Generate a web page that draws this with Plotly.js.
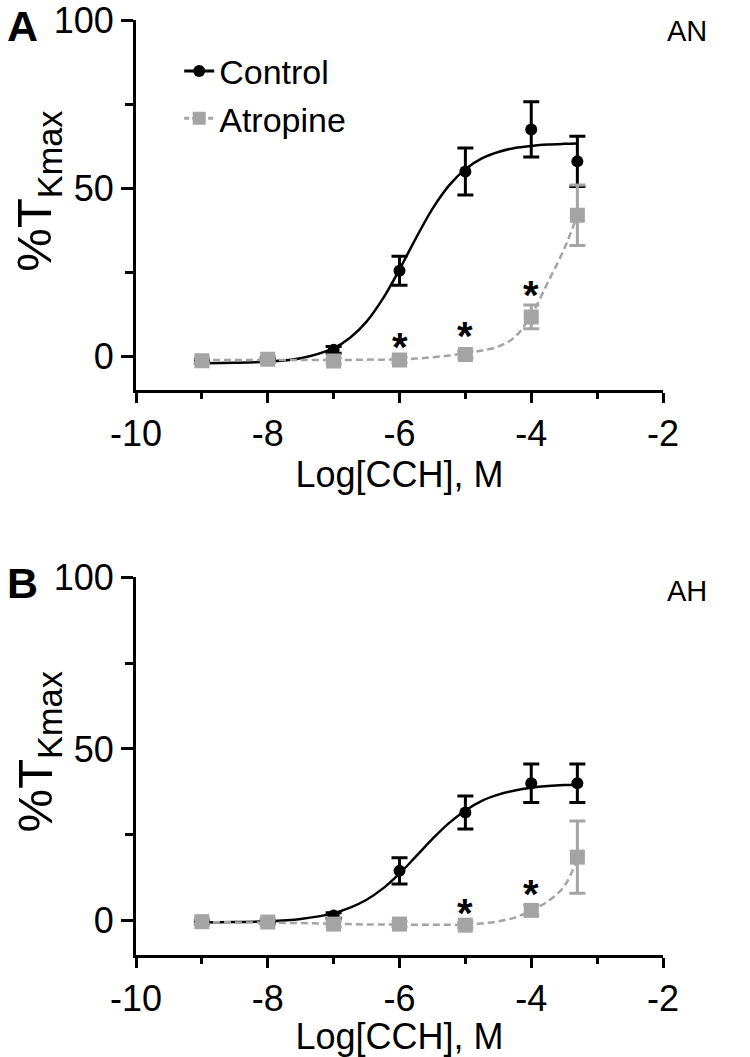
<!DOCTYPE html>
<html>
<head>
<meta charset="utf-8">
<script src="https://cdn.plot.ly/plotly-3.0.1.min.js"></script>
<style>html,body{margin:0;padding:0;background:#fff;}#chart{width:750px;height:1057px;}</style>
</head>
<body>
<div id="chart"></div>
<script>
// ---- data ----
const xDose = [-9, -8, -7, -6, -5, -4, -3.3];

// Panel A (AN)
const ctrlA    = [-1.5, -1, 2, 25.5, 55, 67.5, 58];
const ctrlAErr = [0.5, 0.5, 1, 4.3, 7, 8.2, 7.5];
const atrA     = [-1.2, -0.8, -1.3, -1, 0.6, 11.8, 42];
const atrAErr  = [0.8, 0.8, 0.8, 0.8, 1, 3.5, 9];

// Panel B (AH)
const ctrlB    = [-0.5, -0.3, 1.5, 14.5, 31.5, 40, 40];
const ctrlBErr = [0.5, 0.5, 0.8, 3.8, 4.8, 5.6, 5.6];
const atrB     = [-0.3, -0.4, -1, -1, -1.3, 3, 18.5];
const atrBErr  = [0.8, 0.8, 0.8, 0.8, 0.8, 1.5, 10.5];

// fitted curves
const fitX     = [-9, -8.5, -8, -7.5, -7, -6.75, -6.5, -6.25, -6, -5.75, -5.5, -5.25, -5, -4.75, -4.5, -4.25, -4, -3.75, -3.5, -3.3];
const ctrlFitA = [-1.95, -1.85, -1.5, -0.5, 2.5, 5.6, 10.4, 17.3, 25.9, 35.2, 43.9, 50.8, 55.7, 58.9, 60.8, 62.0, 62.6, 63.0, 63.2, 63.3];
const atrFitA  = [-1, -1, -1, -1, -1, -1, -0.9, -0.9, -0.8, -0.6, -0.2, 0.3, 1, 1.8, 3, 5.8, 12.3, 22, 32, 42];
const ctrlFitB = [-0.5, -0.4, -0.2, 0.5, 2.2, 3.8, 6.1, 9.4, 13.7, 18.7, 23.8, 28.4, 32.1, 34.9, 36.7, 37.9, 38.7, 39.2, 39.5, 39.6];
const atrFitB  = [-0.5, -0.5, -0.6, -0.7, -0.9, -1, -1.1, -1.1, -1.2, -1.2, -1.2, -1.2, -1.2, -0.8, -0.2, 0.9, 3, 5.6, 10, 18];

// significance marks
const starAX = [-6, -5, -4];
const starAY = [5.2, 8.5, 20.7];
const starBX = [-5, -4];
const starBY = [4.6, 10];

const seriesNames = ['Control', 'Atropine'];
const yTickVals = [0, 50, 100];
const xTickVals = [-10, -8, -6, -4, -2];
const panelNames = ['AN', 'AH'];
const panelLetters = ['A', 'B'];

// ---- styles ----
const BLACK = '#000000';
const GREY = '#a4a4a4';
const FONT = '"Liberation Sans", Arial, Helvetica, sans-serif';

function curve(x, y, color, dash, xa, ya) {
  return {x: x, y: y, xaxis: xa, yaxis: ya, mode: 'lines', type: 'scatter',
    line: {color: color, width: 2.5, dash: dash, shape: 'spline', smoothing: 1},
    showlegend: false, hoverinfo: 'skip'};
}
function points(x, y, err, color, symbol, size, xa, ya) {
  return {x: x, y: y, xaxis: xa, yaxis: ya, mode: 'markers', type: 'scatter',
    marker: {color: color, symbol: symbol, size: size, line: {width: 0}},
    error_y: {type: 'data', array: err, visible: true, color: color, thickness: 3, width: 8},
    showlegend: false};
}

const traces = [
  curve(fitX, ctrlFitA, BLACK, 'solid', 'x', 'y'),
  points(xDose, ctrlA, ctrlAErr, BLACK, 'circle', 12, 'x', 'y'),
  curve(fitX, atrFitA, GREY, '7px,4px', 'x', 'y'),
  points(xDose, atrA, atrAErr, GREY, 'square', 15, 'x', 'y'),
  curve(fitX, ctrlFitB, BLACK, 'solid', 'x2', 'y2'),
  points(xDose, ctrlB, ctrlBErr, BLACK, 'circle', 12, 'x2', 'y2'),
  curve(fitX, atrFitB, GREY, '7px,4px', 'x2', 'y2'),
  points(xDose, atrB, atrBErr, GREY, 'square', 15, 'x2', 'y2'),
  // legend entries
  {x: [null], y: [null], xaxis: 'x', yaxis: 'y', mode: 'lines+markers', type: 'scatter', name: seriesNames[0],
    line: {color: BLACK, width: 3}, marker: {color: BLACK, symbol: 'circle', size: 12}},
  {x: [null], y: [null], xaxis: 'x', yaxis: 'y', mode: 'lines+markers', type: 'scatter', name: seriesNames[1],
    line: {color: GREY, width: 3, dash: '5px,3px'}, marker: {color: GREY, symbol: 'square', size: 13}}
];

function xAxis(anchor) {
  return {anchor: anchor, range: [-10, -2], tickvals: xTickVals, ticktext: xTickVals.map(String),
    ticks: 'outside', ticklen: 10, tickwidth: 3, tickcolor: BLACK,
    showline: true, linewidth: 3, linecolor: BLACK, showgrid: false, zeroline: false,
    tickfont: {family: FONT, size: 36, color: BLACK}, ticklabeloverflow: 'allow',
    minor: {dtick: 1, tick0: -10, ticks: 'outside', ticklen: 6, tickwidth: 3, tickcolor: BLACK, showgrid: false},
    title: {text: 'Log[CCH], M', font: {family: FONT, size: 36, color: BLACK}, standoff: 4}};
}
function yAxis(anchor, domain) {
  return {anchor: anchor, domain: domain, range: [-10, 100], tickvals: yTickVals, ticktext: yTickVals.map(String),
    ticks: 'outside', ticklen: 12, tickwidth: 3, tickcolor: BLACK,
    showline: true, linewidth: 3, linecolor: BLACK, showgrid: false, zeroline: false,
    tickfont: {family: FONT, size: 36, color: BLACK}, ticklabeloverflow: 'allow',
    minor: {dtick: 25, tick0: 0, ticks: 'outside', ticklen: 8, tickwidth: 3, tickcolor: BLACK, showgrid: false}};
}

const annotations = [];
// y titles
['y', 'y2'].forEach(function (ya) {
  annotations.push({text: '%T<sub>Kmax</sub>', xref: 'paper', yref: ya, x: 0, y: 49, xanchor: 'center', yanchor: 'middle',
    xshift: -98, textangle: -90, showarrow: false, font: {family: FONT, size: 49, color: BLACK}});
});
// panel letters and names
annotations.push({text: '<b>' + panelLetters[0] + '</b>', xref: 'paper', yref: 'paper', x: 0, y: 1, xshift: -114, yshift: 20,
  xanchor: 'center', yanchor: 'top', showarrow: false, font: {family: FONT, size: 43, color: BLACK}});
annotations.push({text: '<b>' + panelLetters[1] + '</b>', xref: 'paper', yref: 'y2', x: 0, y: 100, xshift: -114, yshift: -6,
  xanchor: 'center', yanchor: 'middle', showarrow: false, font: {family: FONT, size: 43, color: BLACK}});
annotations.push({text: panelNames[0], xref: 'paper', yref: 'y', x: 1, y: 96, xshift: 24, yshift: 2, xanchor: 'center', yanchor: 'middle',
  showarrow: false, font: {family: FONT, size: 29, color: BLACK}});
annotations.push({text: panelNames[1], xref: 'paper', yref: 'y2', x: 1, y: 96, xshift: 24, xanchor: 'center', yanchor: 'middle',
  showarrow: false, font: {family: FONT, size: 29, color: BLACK}});
// asterisks
starAX.forEach(function (x, i) {
  annotations.push({text: '<b>*</b>', xref: 'x', yref: 'y', x: x, y: starAY[i], xanchor: 'center', yanchor: 'middle', yshift: -8,
    showarrow: false, font: {family: FONT, size: 40, color: BLACK}});
});
starBX.forEach(function (x, i) {
  annotations.push({text: '<b>*</b>', xref: 'x2', yref: 'y2', x: x, y: starBY[i], xanchor: 'center', yanchor: 'middle', yshift: -8,
    showarrow: false, font: {family: FONT, size: 40, color: BLACK}});
});

const layout = {
  width: 750, height: 1057,
  margin: {l: 136, r: 87, t: 20, b: 102},
  paper_bgcolor: '#ffffff', plot_bgcolor: '#ffffff',
  font: {family: FONT, color: BLACK},
  xaxis: xAxis('y'),
  yaxis: yAxis('x', [0.604, 1]),
  xaxis2: xAxis('y2'),
  yaxis2: yAxis('x2', [0, 0.404]),
  showlegend: true,
  legend: {x: 0.082, y: 0.976, xanchor: 'left', yanchor: 'top', bgcolor: 'rgba(0,0,0,0)',
    font: {family: FONT, size: 34, color: BLACK}, itemwidth: 30, tracegroupgap: 0},
  annotations: annotations
};

Plotly.newPlot('chart', traces, layout, {displayModeBar: false, staticPlot: true});
</script>
</body>
</html>
